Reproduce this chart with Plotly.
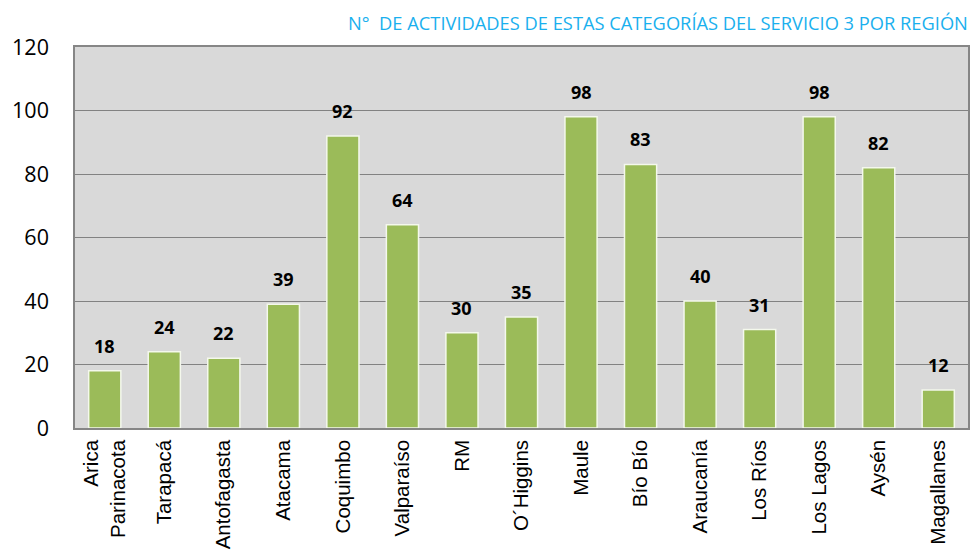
import plotly.graph_objects as go

categories = ["Arica<br>Parinacota", "Tarapacá", "Antofagasta", "Atacama", "Coquimbo",
              "Valparaíso", "RM", "O´Higgins", "Maule", "Bío Bío", "Araucanía",
              "Los Ríos", "Los Lagos", "Aysén", "Magallanes"]
values = [18, 24, 22, 39, 92, 64, 30, 35, 98, 83, 40, 31, 98, 82, 12]
title_text = "N°  DE ACTIVIDADES DE ESTAS CATEGORÍAS DEL SERVICIO 3 POR REGIÓN"

fig = go.Figure()
fig.add_trace(go.Bar(
    x=categories, y=values,
    marker=dict(color="#9bbb59", line=dict(color="#f4f8ec", width=1.5)),
    width=0.54, hoverinfo="skip",
))
for c, v in zip(categories, values):
    fig.add_annotation(x=c, y=v, text="<b>%d</b>" % v, showarrow=False,
                       yshift=25, font=dict(family="Open Sans", size=18, color="black"))

fig.add_annotation(xref="paper", yref="paper", x=1.0, y=1.0, xanchor="right", yanchor="middle",
                   yshift=25, xshift=2, text=title_text, showarrow=False,
                   font=dict(family="Open Sans", size=18.3, color="#1ab0ee"))

fig.update_layout(
    width=973, height=554,
    margin=dict(l=75, r=5, t=47, b=126, autoexpand=False),
    paper_bgcolor="white", plot_bgcolor="#d9d9d9",
    showlegend=False, bargap=0.46,
    xaxis=dict(tickangle=-90, tickfont=dict(family="Liberation Sans", size=20.5, color="black"),
               showline=True, linecolor="#868686", linewidth=1.5, mirror=True, ticks="",
               ticklabelstandoff=2),
    yaxis=dict(range=[0, 120], dtick=20, tickfont=dict(family="Open Sans", size=21.5, color="black"),
               showgrid=True, gridcolor="#828282", gridwidth=1.2,
               showline=True, linecolor="#868686", linewidth=1.5, mirror=True,
               ticks="", ticklabelstandoff=20, zeroline=False),
)
fig.write_html("out.html", config={"displayModeBar": False},
               post_script="document.body.style.margin='0';document.body.style.overflow='hidden';")
